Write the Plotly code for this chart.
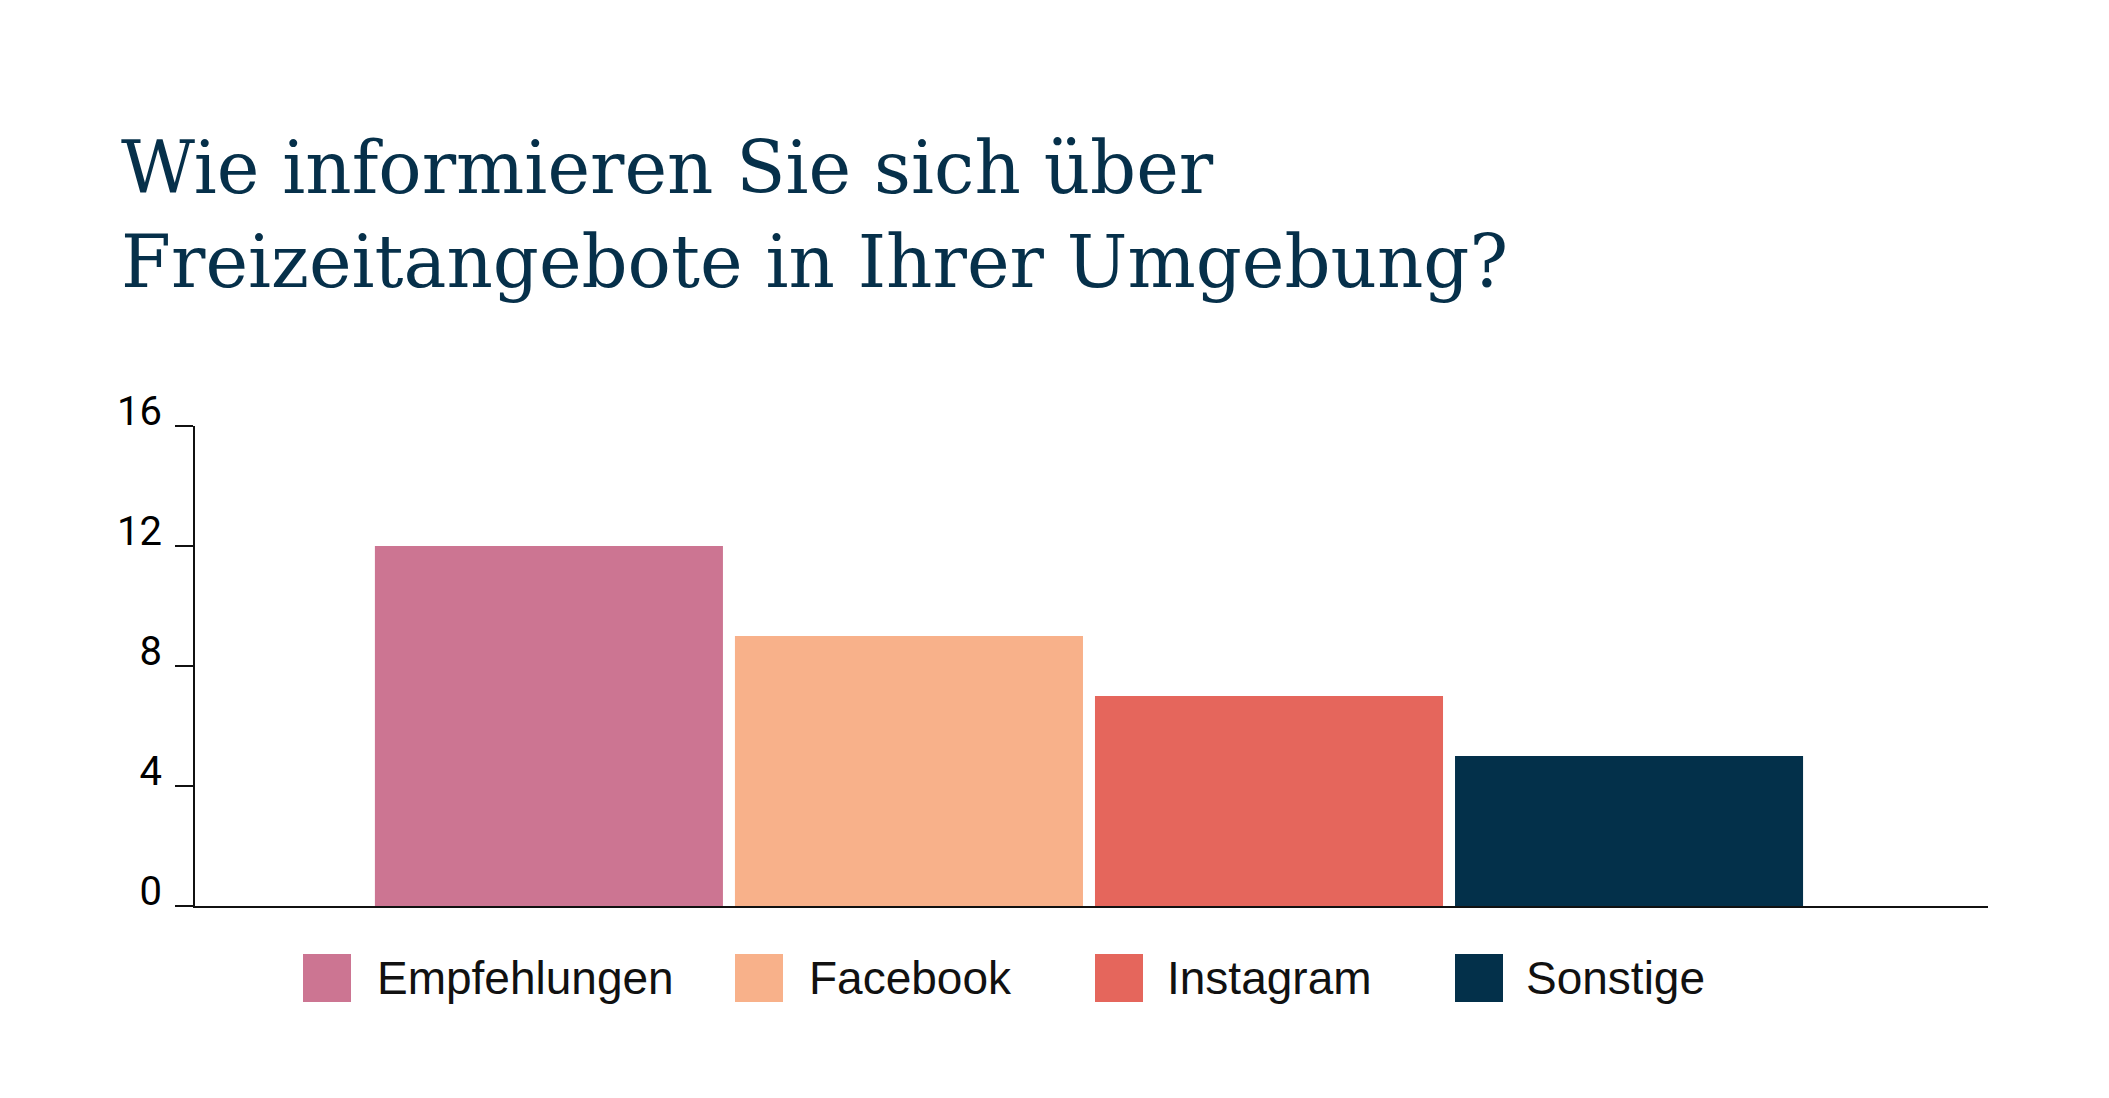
import plotly.graph_objects as go

# ---- data ----
categories = ["Empfehlungen", "Facebook", "Instagram", "Sonstige"]
values = [12, 9, 7, 5]
colors = ["#CC7592", "#F8B18A", "#E5665C", "#03304A"]
y_tick_vals = [0, 4, 8, 12, 16]
y_tick_text = ["0", "4", "8", "12", "16"]
title_lines = ["Wie informieren Sie sich über", "Freizeitangebote in Ihrer Umgebung?"]

# ---- layout constants (pixels, in window coordinates) ----
OFF = 8  # default page body margin
W, H = 2109 - OFF, 1098 - OFF
PLOT_L, PLOT_R, PLOT_T, PLOT_B = 195, 1988, 426, 906
ML, MT = PLOT_L - OFF, PLOT_T - OFF
MR, MB = 2109 - PLOT_R, 1098 - PLOT_B
PW, PH = PLOT_R - PLOT_L, PLOT_B - PLOT_T
BAR_W = 348 / 360
X_RANGE = [-0.983, 3.997]

legend_sq_left_px = [303, 735, 1095, 1455]
legend_txt_left_px = [375, 807, 1165, 1524]
SQ = 48
SQ_TOP = 954
TXT_MID = 978


def px_x(p):
    return (p - PLOT_L) / PW


def px_y(p):
    return (PLOT_B - p) / PH


fig = go.Figure()
for cat, val, col in zip(categories, values, colors):
    fig.add_trace(go.Bar(
        x=[cat], y=[val], name=cat, marker=dict(color=col, line=dict(width=0)),
        width=BAR_W, showlegend=False,
    ))

shapes = []
annotations = []
for cat, col, sx, tx in zip(categories, colors, legend_sq_left_px, legend_txt_left_px):
    shapes.append(dict(type="rect", xref="paper", yref="paper",
                       x0=px_x(sx), x1=px_x(sx + SQ), y0=px_y(SQ_TOP + SQ), y1=px_y(SQ_TOP),
                       fillcolor=col, line=dict(width=0), layer="above"))
    annotations.append(dict(text=cat, xref="paper", yref="paper", x=px_x(tx), y=px_y(TXT_MID),
                            xanchor="left", yanchor="middle", showarrow=False,
                            font=dict(family="Liberation Sans", size=46, color="#111111")))

fig.update_layout(
    width=W, height=H,
    margin=dict(l=ML, r=MR, t=MT, b=MB, pad=0),
    paper_bgcolor="white", plot_bgcolor="white",
    barmode="overlay",
    title=dict(text="<br>".join(title_lines), x=(121 - OFF) / W, xref="container", xanchor="left",
               y=1 - (118 + 75 - OFF) / H, yref="container", yanchor="top",
               font=dict(family="DejaVu Serif", size=72, color="#06304A")),
    xaxis=dict(type="category", range=X_RANGE, showticklabels=False, ticks="",
               showline=True, linecolor="#111111", linewidth=2, showgrid=False, zeroline=False,
               fixedrange=True),
    yaxis=dict(range=[0, 16], tickmode="array", tickvals=y_tick_vals, ticktext=y_tick_text,
               ticks="outside", ticklen=18, tickwidth=2, tickcolor="#111111",
               showline=True, linecolor="#111111", linewidth=2, showgrid=False, zeroline=False,
               tickfont=dict(family="Roboto", size=40, color="#000000"),
               ticklabelshift=-15, ticklabelstandoff=5),
    shapes=shapes,
    annotations=annotations,
    showlegend=False,
)

fig.write_html("out.html")
